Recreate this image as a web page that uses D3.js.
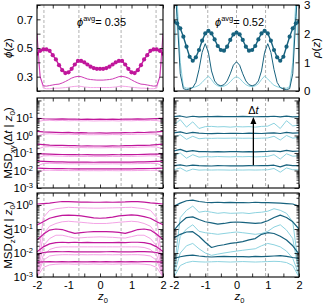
<!DOCTYPE html>
<html>
<head>
<meta charset="utf-8">
<script src="https://cdn.jsdelivr.net/npm/d3@7"></script>
<style>
  body { margin: 0; background: #fff; }
  svg { font-family: "Liberation Sans", Arial, sans-serif; }
</style>
</head>
<body>
<script>

// ---- data ----

// profile grid (top row) and MSD grid (middle / bottom rows)
var zProfile = d3.range(41).map(function(i) { return -2 + i * 0.1; });
var zMsd = d3.range(21).map(function(i) { return -2 + i * 0.2; });

var phiAvg = ['0.35', '0.52'];
var dashedLeft = [-1.78, -0.67, 0.67, 1.78];
var dashedRight = [-0.92, 0, 0.93];

// phi(z), left column (phi_avg = 0.35), half profile mirrored below
var phiLeftHalf = [0.46, 0.48, 0.49, 0.49, 0.48, 0.45, 0.42, 0.38, 0.345, 0.325, 0.33,
                   0.355, 0.385, 0.41, 0.41, 0.40, 0.385, 0.37, 0.36, 0.355, 0.355];
var rhoLeftHalf = [2.0, 0.5, 0.18, 0.17, 0.19, 0.21, 0.23, 0.24, 0.28, 0.33, 0.39,
                   0.45, 0.49, 0.51, 0.50, 0.46, 0.42, 0.40, 0.39, 0.38, 0.38];
var rhoLeftLightHalf = [1.5, 0.5, 0.1, 0.08, 0.08, 0.09, 0.1, 0.1, 0.11, 0.12, 0.13,
                        0.15, 0.16, 0.17, 0.16, 0.14, 0.13, 0.12, 0.12, 0.12, 0.12];

// phi(z), right column (phi_avg = 0.52)
var phiRightHalf = [0.683, 0.672, 0.637, 0.579, 0.509, 0.439, 0.411, 0.435, 0.486, 0.551, 0.602,
                    0.62, 0.602, 0.56, 0.514, 0.486, 0.481, 0.509, 0.556, 0.595, 0.607];
var rhoRightHalf = [4.0, 2.6, 0.6, 0.08, 0.05, 0.07, 0.12, 0.3, 0.75, 1.35, 1.65,
                    1.35, 0.7, 0.35, 0.22, 0.18, 0.22, 0.35, 0.6, 0.9, 1.02];
var rhoRightLightHalf = [1.0, 3.2, 1.0, 0.15, 0.1, 0.1, 0.12, 0.15, 0.2, 0.3, 0.42,
                         0.52, 0.4, 0.25, 0.18, 0.15, 0.17, 0.22, 0.32, 0.44, 0.5];

// MSD_xy, left column: dark = one sample, light = the other
var msdXyLeft = [
  [9.6, 9.0, 8.7, 8.6, 8.9, 8.5, 8.7, 8.4, 8.6, 8.3, 8.5, 8.4, 8.6, 8.3, 8.7, 8.5, 8.8, 8.6, 8.8, 9.1, 9.5],
  [1.7, 1.6, 1.55, 1.5, 1.45, 1.5, 1.42, 1.45, 1.4, 1.38, 1.4, 1.37, 1.42, 1.4, 1.45, 1.43, 1.5, 1.48, 1.55, 1.6, 1.7],
  [0.32, 0.3, 0.28, 0.27, 0.27, 0.26, 0.26, 0.25, 0.255, 0.25, 0.25, 0.245, 0.255, 0.25, 0.26, 0.26, 0.27, 0.27, 0.28, 0.3, 0.32],
  [0.09, 0.088, 0.085, 0.083, 0.082, 0.08, 0.081, 0.079, 0.08, 0.078, 0.079, 0.078, 0.08, 0.079, 0.081, 0.08, 0.082, 0.083, 0.085, 0.087, 0.09],
  [0.034, 0.033, 0.032, 0.031, 0.031, 0.030, 0.0305, 0.030, 0.0302, 0.0295, 0.030, 0.0297, 0.0303, 0.0298, 0.0305, 0.030, 0.031, 0.031, 0.032, 0.033, 0.034],
  [0.0135, 0.0132, 0.013, 0.0128, 0.0127, 0.0126, 0.0125, 0.0126, 0.0124, 0.0125, 0.0124, 0.0126, 0.0125, 0.0124, 0.0126, 0.0125, 0.0127, 0.0128, 0.013, 0.0132, 0.0135]
];
var msdXyLeftLight = [
  [6.0, 7.2, 7.4, 7.0, 7.3, 6.9, 7.1, 6.8, 7.0, 6.7, 6.9, 6.8, 7.0, 6.7, 7.1, 6.9, 7.2, 7.0, 7.3, 7.1, 6.2],
  [0.9, 1.2, 1.25, 1.2, 1.15, 1.2, 1.13, 1.16, 1.1, 1.1, 1.12, 1.09, 1.13, 1.11, 1.16, 1.14, 1.2, 1.18, 1.24, 1.2, 0.95],
  [0.16, 0.22, 0.23, 0.22, 0.21, 0.21, 0.2, 0.205, 0.2, 0.2, 0.198, 0.2, 0.203, 0.2, 0.21, 0.205, 0.215, 0.22, 0.225, 0.22, 0.17],
  [0.05, 0.068, 0.07, 0.067, 0.066, 0.064, 0.065, 0.063, 0.064, 0.062, 0.063, 0.062, 0.064, 0.063, 0.065, 0.064, 0.066, 0.067, 0.069, 0.068, 0.052],
  [0.018, 0.025, 0.026, 0.025, 0.0245, 0.024, 0.0243, 0.0238, 0.024, 0.0235, 0.024, 0.0237, 0.0242, 0.0238, 0.0244, 0.024, 0.0247, 0.025, 0.0255, 0.025, 0.019],
  [0.007, 0.0102, 0.0104, 0.0101, 0.01, 0.0099, 0.0098, 0.0099, 0.0097, 0.0098, 0.0097, 0.0099, 0.0098, 0.0097, 0.0099, 0.0098, 0.01, 0.0101, 0.0103, 0.0102, 0.0072]
];

// MSD_xy, right column
var msdXyRight = [
  [12, 13, 11, 12.5, 11.5, 12, 11.8, 12.2, 11.9, 12.1, 11.8, 12.3, 12, 11.7, 12.1, 11.9, 12.5, 11.4, 12.8, 11.6, 12],
  [1.4, 1.6, 1.3, 1.5, 1.35, 1.3, 1.28, 1.33, 1.3, 1.32, 1.34, 1.3, 1.35, 1.32, 1.3, 1.36, 1.4, 1.3, 1.5, 1.35, 1.4],
  [0.13, 0.16, 0.12, 0.135, 0.12, 0.118, 0.115, 0.12, 0.117, 0.118, 0.12, 0.116, 0.119, 0.117, 0.12, 0.122, 0.13, 0.12, 0.14, 0.125, 0.13],
  [0.019, 0.021, 0.018, 0.02, 0.019, 0.0185, 0.018, 0.0188, 0.0186, 0.0184, 0.0187, 0.0185, 0.0188, 0.0186, 0.019, 0.0192, 0.02, 0.016, 0.021, 0.019, 0.019]
];
var msdXyRightLight = [
  [4, 8, 3, 6, 2.5, 3.2, 3.3, 3.1, 3.2, 3.0, 3.2, 3.1, 3.2, 3.0, 3.3, 3.4, 5, 2.5, 7, 3.5, 4],
  [0.8, 1.1, 0.6, 0.9, 0.65, 0.7, 0.68, 0.7, 0.69, 0.7, 0.71, 0.69, 0.7, 0.68, 0.7, 0.72, 0.9, 0.55, 1.0, 0.7, 0.8],
  [0.07, 0.1, 0.05, 0.08, 0.058, 0.062, 0.06, 0.063, 0.061, 0.06, 0.062, 0.061, 0.063, 0.06, 0.062, 0.064, 0.08, 0.045, 0.09, 0.065, 0.07],
  [0.011, 0.014, 0.009, 0.012, 0.0105, 0.0108, 0.0106, 0.0108, 0.0107, 0.0105, 0.0107, 0.0106, 0.0108, 0.0106, 0.0108, 0.011, 0.013, 0.008, 0.014, 0.011, 0.011]
];

// MSD_z, left column
var msdZLeft = [
  [1.1, 1.15, 1.2, 1.3, 1.4, 1.38, 1.35, 1.33, 1.32, 1.3, 1.3, 1.31, 1.3, 1.33, 1.34, 1.37, 1.39, 1.32, 1.22, 1.16, 1.1],
  [0.147, 0.2, 0.28, 0.33, 0.37, 0.38, 0.37, 0.35, 0.32, 0.29, 0.28, 0.29, 0.31, 0.35, 0.37, 0.39, 0.37, 0.33, 0.28, 0.2, 0.15],
  [0.035, 0.06, 0.09, 0.1, 0.095, 0.078, 0.066, 0.07, 0.075, 0.077, 0.078, 0.077, 0.076, 0.072, 0.066, 0.078, 0.095, 0.1, 0.09, 0.06, 0.036],
  [0.0113, 0.018, 0.024, 0.027, 0.028, 0.027, 0.028, 0.027, 0.0275, 0.027, 0.027, 0.0272, 0.027, 0.0275, 0.027, 0.028, 0.028, 0.027, 0.024, 0.018, 0.0115],
  [0.0085, 0.0105, 0.0112, 0.0115, 0.0113, 0.0114, 0.0112, 0.0113, 0.0112, 0.0113, 0.0112, 0.0113, 0.0114, 0.0112, 0.0113, 0.0112, 0.0114, 0.0115, 0.0112, 0.0105, 0.0086],
  [0.0042, 0.0043, 0.0044, 0.0043, 0.0044, 0.0043, 0.0044, 0.0043, 0.0043, 0.0044, 0.0043, 0.0044, 0.0043, 0.0044, 0.0043, 0.0044, 0.0043, 0.0044, 0.0044, 0.0043, 0.0042]
];
var msdZLeftLight = [
  [0.002, 0.3, 0.6, 0.7, 0.75, 0.8, 0.78, 0.76, 0.75, 0.74, 0.74, 0.75, 0.76, 0.77, 0.79, 0.8, 0.75, 0.7, 0.6, 0.3, 0.002],
  [0.0015, 0.06, 0.13, 0.17, 0.2, 0.21, 0.2, 0.19, 0.18, 0.17, 0.17, 0.17, 0.18, 0.19, 0.2, 0.21, 0.2, 0.17, 0.13, 0.06, 0.0015],
  [0.0012, 0.02, 0.04, 0.055, 0.055, 0.048, 0.042, 0.043, 0.045, 0.046, 0.047, 0.046, 0.045, 0.043, 0.042, 0.048, 0.055, 0.055, 0.04, 0.02, 0.0012],
  [0.0011, 0.008, 0.014, 0.017, 0.018, 0.018, 0.018, 0.018, 0.018, 0.018, 0.018, 0.018, 0.018, 0.018, 0.018, 0.018, 0.018, 0.017, 0.014, 0.008, 0.0011],
  [0.001, 0.005, 0.0075, 0.0082, 0.0085, 0.0085, 0.0084, 0.0085, 0.0084, 0.0085, 0.0084, 0.0085, 0.0084, 0.0085, 0.0084, 0.0085, 0.0085, 0.0082, 0.0075, 0.005, 0.001],
  [0.001, 0.0025, 0.0032, 0.0034, 0.0035, 0.0035, 0.0034, 0.0035, 0.0034, 0.0035, 0.0034, 0.0035, 0.0034, 0.0035, 0.0034, 0.0035, 0.0035, 0.0034, 0.0032, 0.0025, 0.001]
];

// MSD_z, right column
var msdZRight = [
  [0.9, 1.2, 1.5, 1.6, 1.4, 1.3, 1.25, 1.3, 1.25, 1.28, 1.25, 1.27, 1.24, 1.3, 1.26, 1.25, 1.22, 1.2, 1.15, 1.1, 0.9],
  [0.09, 0.18, 0.3, 0.32, 0.25, 0.2, 0.18, 0.16, 0.17, 0.19, 0.196, 0.19, 0.18, 0.17, 0.18, 0.22, 0.3, 0.38, 0.3, 0.2, 0.1],
  [0.042, 0.06, 0.075, 0.077, 0.05, 0.028, 0.017, 0.02, 0.022, 0.025, 0.027, 0.03, 0.035, 0.04, 0.06, 0.07, 0.065, 0.05, 0.035, 0.02, 0.009],
  [0.006, 0.007, 0.0078, 0.0082, 0.0075, 0.007, 0.0068, 0.007, 0.0072, 0.007, 0.007, 0.0071, 0.0069, 0.0072, 0.007, 0.0073, 0.0075, 0.0078, 0.0072, 0.0065, 0.006]
];
var msdZRightLight = [
  [0.002, 0.3, 0.6, 0.9, 0.5, 0.55, 0.5, 0.45, 0.48, 0.45, 0.46, 0.47, 0.44, 0.48, 0.5, 0.55, 0.7, 0.6, 0.45, 0.2, 0.002],
  [0.0015, 0.05, 0.1, 0.15, 0.08, 0.07, 0.065, 0.06, 0.065, 0.07, 0.075, 0.07, 0.065, 0.06, 0.065, 0.08, 0.12, 0.15, 0.09, 0.04, 0.0015],
  [0.0012, 0.01, 0.02, 0.025, 0.015, 0.01, 0.008, 0.009, 0.01, 0.011, 0.012, 0.013, 0.014, 0.015, 0.02, 0.025, 0.022, 0.018, 0.012, 0.006, 0.0012],
  [0.001, 0.003, 0.004, 0.0045, 0.0043, 0.0042, 0.0043, 0.0044, 0.0043, 0.0042, 0.0043, 0.0044, 0.0043, 0.0042, 0.0043, 0.0044, 0.0045, 0.0044, 0.004, 0.003, 0.001]
];

// labelled decades on the log axes
var xyDecades = [1e-3, 1e-2, 1e-1, 1e0, 1e1];
var zDecades = [1e-3, 1e-2, 1e-1, 1e0];

// arrow "Δt" in the middle right panel: z position and span in MSD
var arrowZ = 0.54;
var arrowSpan = [0.02, 10];

// ---- layout ----
var width = 324, height = 306;
var cols = [[37, 163], [174, 299]];
var rows = [[5, 91], [98, 188], [193, 277]];
var magenta = { dark: '#c0169b', mid: '#cf3db6', light: '#f4a4e6' };
var teal = { dark: '#17627e', mid: '#17627e', light: '#8dd3e0' };

function mirror(half) {
  return half.concat(half.slice(0, -1).reverse());
}

var svg = d3.select('body').append('svg')
  .attr('width', width)
  .attr('height', height);

var xs = cols.map(function(c) { return d3.scaleLinear().domain([-2, 2]).range(c); });
var yPhi = d3.scaleLinear().domain([0.2, 0.8]).range([rows[0][1], rows[0][0]]);
var yRho = d3.scaleLinear().domain([0, 3]).range([rows[0][1], rows[0][0]]);
var yXy = d3.scaleLog().domain([1e-3, Math.pow(10, 2.14)]).range([rows[1][1], rows[1][0]]);
var yZ = d3.scaleLog().domain([1e-3, Math.pow(10, 0.5)]).range([rows[2][1], rows[2][0]]);

// clip paths for each panel
var defs = svg.append('defs');
cols.forEach(function(c, ci) {
  rows.forEach(function(r, ri) {
    defs.append('clipPath').attr('id', 'clip' + ci + ri)
      .append('rect')
        .attr('x', c[0]).attr('y', r[0])
        .attr('width', c[1] - c[0]).attr('height', r[1] - r[0]);
  });
});

function panel(ci, ri) {
  return svg.append('g').attr('clip-path', 'url(#clip' + ci + ri + ')');
}

// dashed guides
[dashedLeft, dashedRight].forEach(function(list, ci) {
  rows.forEach(function(r) {
    svg.append('g').selectAll('line')
      .data(list)
      .enter()
      .append('line')
        .attr('x1', function(d) { return xs[ci](d); })
        .attr('x2', function(d) { return xs[ci](d); })
        .attr('y1', r[0]).attr('y2', r[1])
        .attr('stroke', '#a8a8a8')
        .attr('stroke-width', 0.9)
        .attr('stroke-dasharray', '3,2');
  });
});

function drawLine(g, xsc, ysc, zs, vals, color, w) {
  var line = d3.line()
    .x(function(d, i) { return xsc(zs[i]); })
    .y(function(d) { return ysc(d); });
  g.append('path')
    .datum(vals)
    .attr('d', line)
    .attr('fill', 'none')
    .attr('stroke', color)
    .attr('stroke-width', w)
    .attr('stroke-linejoin', 'round');
}

// top row
var g00 = panel(0, 0);
drawLine(g00, xs[0], yRho, zProfile, mirror(rhoLeftLightHalf), magenta.light, 1);
drawLine(g00, xs[0], yRho, zProfile, mirror(rhoLeftHalf), magenta.mid, 1);
drawLine(g00, xs[0], yPhi, zProfile, mirror(phiLeftHalf), magenta.dark, 1.4);
g00.append('g').selectAll('circle')
  .data(mirror(phiLeftHalf))
  .enter()
  .append('circle')
    .attr('cx', function(d, i) { return xs[0](zProfile[i]); })
    .attr('cy', function(d) { return yPhi(d); })
    .attr('r', 2.1)
    .attr('fill', magenta.dark);

var g10 = panel(1, 0);
drawLine(g10, xs[1], yRho, zProfile, mirror(rhoRightLightHalf), teal.light, 1);
drawLine(g10, xs[1], yRho, zProfile, mirror(rhoRightHalf), teal.mid, 1);
drawLine(g10, xs[1], yPhi, zProfile, mirror(phiRightHalf), teal.dark, 1.4);
g10.append('g').selectAll('circle')
  .data(mirror(phiRightHalf))
  .enter()
  .append('circle')
    .attr('cx', function(d, i) { return xs[1](zProfile[i]); })
    .attr('cy', function(d) { return yPhi(d); })
    .attr('r', 2.1)
    .attr('fill', teal.dark);

// middle and bottom rows
var msdSets = [
  [0, 1, yXy, msdXyLeft, msdXyLeftLight, magenta],
  [1, 1, yXy, msdXyRight, msdXyRightLight, teal],
  [0, 2, yZ, msdZLeft, msdZLeftLight, magenta],
  [1, 2, yZ, msdZRight, msdZRightLight, teal]
];
msdSets.forEach(function(s) {
  var g = panel(s[0], s[1]);
  s[4].forEach(function(v) { drawLine(g, xs[s[0]], s[2], zMsd, v, s[5].light, 1); });
  s[3].forEach(function(v) { drawLine(g, xs[s[0]], s[2], zMsd, v, s[5].dark, 1.2); });
});

// arrow
var ax = xs[1](arrowZ);
svg.append('line')
  .attr('x1', ax).attr('x2', ax)
  .attr('y1', yXy(arrowSpan[0])).attr('y2', yXy(arrowSpan[1]) + 4)
  .attr('stroke', '#000').attr('stroke-width', 1.3);
svg.append('path')
  .attr('d', 'M' + (ax - 3) + ',' + (yXy(arrowSpan[1]) + 6) + 'L' + ax + ',' + (yXy(arrowSpan[1]) - 1) +
             'L' + (ax + 3) + ',' + (yXy(arrowSpan[1]) + 6) + 'Z')
  .attr('fill', '#000');
svg.append('text')
  .attr('x', ax).attr('y', yXy(arrowSpan[1]) - 4)
  .attr('text-anchor', 'middle')
  .attr('font-size', 11)
  .html('Δ<tspan font-style="italic">t</tspan>');

// ---- frames, ticks and labels ----
var xMinor = d3.range(9).map(function(i) { return -2 + i * 0.5; });

function clean(g) {
  g.select('.domain').remove();
  g.selectAll('.tick line').attr('stroke', '#000').attr('stroke-width', 0.8);
  return g;
}

function logTicks(scale) {
  var out = [];
  var d = scale.domain();
  for (var e = -3; e <= 3; e++) {
    for (var m = 1; m < 10; m++) {
      var v = m * Math.pow(10, e);
      if (v >= d[0] && v <= d[1]) out.push(v);
    }
  }
  return out;
}

cols.forEach(function(c, ci) {
  rows.forEach(function(r, ri) {
    var x = xs[ci];
    clean(svg.append('g').attr('transform', 'translate(0,' + r[1] + ')')
      .call(d3.axisBottom(x).tickValues(xMinor).tickSize(-3.5).tickFormat('')));
    clean(svg.append('g').attr('transform', 'translate(0,' + r[0] + ')')
      .call(d3.axisTop(x).tickValues(xMinor).tickSize(-3.5).tickFormat('')));

    if (ri === 0) {
      var phiTicks = d3.range(7).map(function(i) { return 0.2 + i * 0.1; });
      var rhoTicks = d3.range(7).map(function(i) { return i * 0.5; });
      clean(svg.append('g').attr('transform', 'translate(' + c[0] + ',0)')
        .call(d3.axisLeft(yPhi).tickValues(phiTicks).tickSize(-3.5).tickFormat('')));
      clean(svg.append('g').attr('transform', 'translate(' + c[1] + ',0)')
        .call(d3.axisRight(yRho).tickValues(rhoTicks).tickSize(-3.5).tickFormat('')));
    } else {
      var ysc = ri === 1 ? yXy : yZ;
      var all = logTicks(ysc);
      var major = all.filter(function(v) { return Math.abs(Math.log10(v) - Math.round(Math.log10(v))) < 1e-9; });
      var minor = all.filter(function(v) { return major.indexOf(v) < 0; });
      [[c[0], d3.axisLeft], [c[1], d3.axisRight]].forEach(function(side) {
        clean(svg.append('g').attr('transform', 'translate(' + side[0] + ',0)')
          .call(side[1](ysc).tickValues(major).tickSize(-4.5).tickFormat('')));
        clean(svg.append('g').attr('transform', 'translate(' + side[0] + ',0)')
          .call(side[1](ysc).tickValues(minor).tickSize(-2.5).tickFormat('')));
      });
    }

    svg.append('rect')
      .attr('x', c[0]).attr('y', r[0])
      .attr('width', c[1] - c[0]).attr('height', r[1] - r[0])
      .attr('fill', 'none')
      .attr('stroke', '#000')
      .attr('stroke-width', 1.1);
  });

  // x tick labels under the bottom row
  var xl = svg.append('g').attr('transform', 'translate(0,' + rows[2][1] + ')')
    .call(d3.axisBottom(xs[ci]).tickValues([-2, -1, 0, 1, 2]).tickSize(0).tickPadding(4)
      .tickFormat(function(d) { return String(d); }));
  xl.select('.domain').remove();
  xl.selectAll('text').attr('font-size', 11).attr('font-family', null).attr('fill', '#000');

  svg.append('text')
    .attr('x', (c[0] + c[1]) / 2 - 2).attr('y', 300)
    .attr('font-size', 11.5)
    .html('<tspan font-style="italic">z</tspan><tspan font-size="7.5" dy="2.5">0</tspan>');

  // phi_avg annotation
  svg.append('text')
    .attr('x', ci === 0 ? 77 : 215).attr('y', 26)
    .attr('font-size', 11)
    .html('<tspan font-style="italic">ϕ</tspan><tspan font-size="7.5" dy="-5">avg</tspan><tspan dy="5">= ' + phiAvg[ci] + '</tspan>');
});

// left y labels
var phiLab = svg.append('g').attr('transform', 'translate(' + cols[0][0] + ',0)')
  .call(d3.axisLeft(yPhi).tickValues([0.3, 0.5, 0.7]).tickSize(0).tickPadding(4).tickFormat(d3.format('.1f')));
phiLab.select('.domain').remove();
phiLab.selectAll('text').attr('font-size', 11.5).attr('font-family', null);

var rhoLab = svg.append('g').attr('transform', 'translate(' + cols[1][1] + ',0)')
  .call(d3.axisRight(yRho).tickValues([0, 1, 2, 3]).tickSize(0).tickPadding(5).tickFormat(d3.format('d')));
rhoLab.select('.domain').remove();
rhoLab.selectAll('text').attr('font-size', 11.5).attr('font-family', null);

[[yXy, xyDecades], [yZ, zDecades]].forEach(function(pair) {
  var g = svg.append('g').attr('transform', 'translate(' + cols[0][0] + ',0)')
    .call(d3.axisLeft(pair[0]).tickValues(pair[1]).tickSize(0).tickPadding(4).tickFormat(''));
  g.select('.domain').remove();
  g.selectAll('.tick text')
    .attr('font-size', 11.5).attr('font-family', null)
    .each(function(d) {
      var t = d3.select(this);
      t.append('tspan').text('10');
      t.append('tspan').attr('font-size', 7.5).attr('dy', '-0.5em').text(String(Math.round(Math.log10(d))));
    });
});

// axis titles
function vTitle(x, y, html) {
  svg.append('text')
    .attr('transform', 'translate(' + x + ',' + y + ') rotate(-90)')
    .attr('text-anchor', 'middle')
    .attr('font-size', 11.5)
    .html(html);
}
vTitle(12, 48, '<tspan font-style="italic">ϕ</tspan>(<tspan font-style="italic">z</tspan>)');
vTitle(320, 48, '<tspan font-style="italic">ρ</tspan>(<tspan font-style="italic">z</tspan>)');
vTitle(12, 143, 'MSD<tspan font-size="8" dy="3">xy</tspan><tspan dy="-3">(Δ<tspan font-style="italic">t</tspan> | <tspan font-style="italic">z</tspan></tspan><tspan font-size="8" dy="3">0</tspan><tspan dy="-3">)</tspan>');
vTitle(12, 235, 'MSD<tspan font-size="8" dy="3">z</tspan><tspan dy="-3">(Δ<tspan font-style="italic">t</tspan> | <tspan font-style="italic">z</tspan></tspan><tspan font-size="8" dy="3">0</tspan><tspan dy="-3">)</tspan>');

</script>
</body>
</html>
